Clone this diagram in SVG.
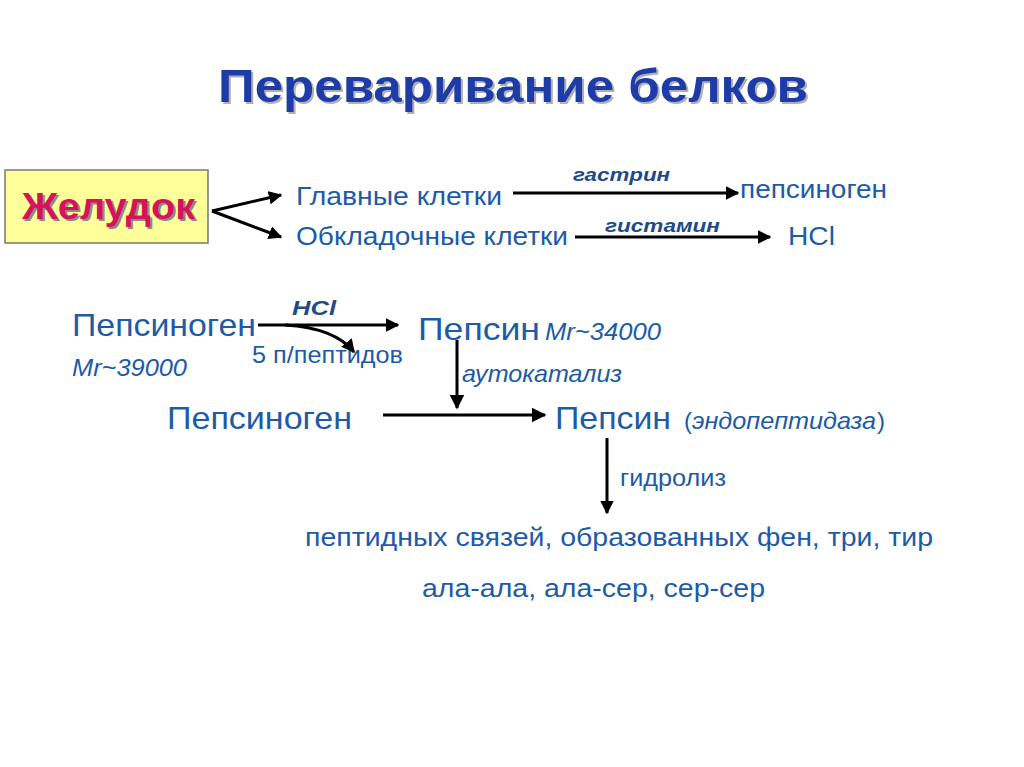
<svg xmlns="http://www.w3.org/2000/svg" width="1024" height="767" viewBox="0 0 1024 767">
<defs>
<marker id="ah" viewBox="0 0 10 10" refX="9" refY="5" markerWidth="4.5" markerHeight="4.5" orient="auto" markerUnits="strokeWidth">
<path d="M0,0 L10,5 L0,10 z" fill="#000"/>
</marker>
<marker id="ahs" viewBox="0 0 10 10" refX="9" refY="5" markerWidth="5" markerHeight="5" orient="auto" markerUnits="strokeWidth">
<path d="M0,0 L10,5 L0,10 z" fill="#000"/>
</marker>
</defs>
<style>
text{font-family:"Liberation Sans",Arial,sans-serif;fill:#1d5ba6}
.t{font-weight:bold;font-size:46px;fill:#1e3ca8}
.sh{fill:#b0b0b0}
.m{font-size:26px}
.b{font-size:32px}
.s{font-size:24px}
.i{font-style:italic}
.lab{font-style:italic;font-weight:bold;font-size:19px;fill:#1f4a8a}
.c{fill:none;stroke:#000;stroke-width:3}
</style>
<rect width="1024" height="767" fill="#fff"/>
<g id="title">
<text class="t sh" x="220" y="104" textLength="590" lengthAdjust="spacingAndGlyphs">Переваривание белков</text>
<text class="t" x="218" y="102" textLength="590" lengthAdjust="spacingAndGlyphs">Переваривание белков</text>
</g>
<g id="stomach">
<rect x="5" y="170" width="203" height="73" fill="#ffff99" stroke="#777" stroke-width="1.5"/>
<text x="24" y="221" textLength="173" lengthAdjust="spacingAndGlyphs" style="font-weight:bold;font-size:36px;fill:#8a8a8a">Желудок</text>
<text x="22" y="219" textLength="173" lengthAdjust="spacingAndGlyphs" style="font-weight:bold;font-size:36px;fill:#d4145a">Желудок</text>
</g>
<g id="chief"><text class="m" x="296" y="205" textLength="206" lengthAdjust="spacingAndGlyphs">Главные клетки</text></g>
<g id="parietal"><text class="m" x="296" y="245" textLength="272" lengthAdjust="spacingAndGlyphs">Обкладочные клетки</text></g>
<g id="pepsinogen1"><text class="m" x="740" y="198" textLength="147" lengthAdjust="spacingAndGlyphs">пепсиноген</text></g>
<g id="hcl1"><text class="m" x="788" y="245" textLength="47" lengthAdjust="spacingAndGlyphs">HCl</text></g>
<g id="pepsinogen2">
<text class="b" x="72" y="336" textLength="184" lengthAdjust="spacingAndGlyphs">Пепсиноген</text>
<text class="s i" x="72" y="376" textLength="115" lengthAdjust="spacingAndGlyphs">Mr~39000</text>
</g>
<g id="peptides"><text class="s" x="252" y="363" textLength="151" lengthAdjust="spacingAndGlyphs">5 п/пептидов</text></g>
<g id="pepsin1">
<text class="b" x="418" y="340" textLength="122" lengthAdjust="spacingAndGlyphs">Пепсин</text>
<text class="s i" x="545" y="340" textLength="116" lengthAdjust="spacingAndGlyphs">Mr~34000</text>
</g>
<g id="pepsinogen3"><text class="b" x="167" y="429" textLength="185" lengthAdjust="spacingAndGlyphs">Пепсиноген</text></g>
<g id="pepsin2">
<text class="b" x="555" y="429" textLength="116" lengthAdjust="spacingAndGlyphs">Пепсин</text>
<text class="s" x="684" y="429">(</text>
<text class="s i" x="692" y="429" textLength="184" lengthAdjust="spacingAndGlyphs">эндопептидаза</text>
<text class="s" x="877" y="429">)</text>
</g>
<g id="bonds">
<text class="m" x="305" y="546" textLength="628" lengthAdjust="spacingAndGlyphs">пептидных связей, образованных фен, три, тир</text>
<text class="m" x="422" y="597" textLength="343" lengthAdjust="spacingAndGlyphs">ала-ала, ала-сер, сер-сер</text>
</g>
<g id="connectors">
<line class="c" x1="212" y1="211" x2="281" y2="195" marker-end="url(#ah)"/>
<line class="c" x1="212" y1="211" x2="281" y2="237" marker-end="url(#ah)"/>
<line class="c" x1="513" y1="193" x2="738" y2="193" marker-end="url(#ah)"/>
<text class="lab" x="573" y="181" textLength="97" lengthAdjust="spacingAndGlyphs">гастрин</text>
<line class="c" x1="575" y1="237" x2="770" y2="237" marker-end="url(#ah)"/>
<text class="lab" x="605" y="232" textLength="115" lengthAdjust="spacingAndGlyphs">гистамин</text>
<line class="c" x1="258" y1="325" x2="398" y2="325" marker-end="url(#ah)"/>
<text class="lab" x="292" y="315" textLength="44" lengthAdjust="spacingAndGlyphs" style="font-size:21px">HCl</text>
<path class="c" d="M285,325 Q335,328 354,352" marker-end="url(#ah)"/>
<line class="c" x1="457" y1="340" x2="457" y2="408" stroke-width="2.5" marker-end="url(#ahs)"/>
<text class="s i" x="462" y="382" textLength="160" lengthAdjust="spacingAndGlyphs">аутокатализ</text>
<line class="c" x1="383" y1="415" x2="545" y2="415" stroke-width="2.5" marker-end="url(#ahs)"/>
<line class="c" x1="607" y1="438" x2="607" y2="513" marker-end="url(#ah)"/>
<text class="s" x="620" y="486" textLength="106" lengthAdjust="spacingAndGlyphs">гидролиз</text>
</g>
</svg>
